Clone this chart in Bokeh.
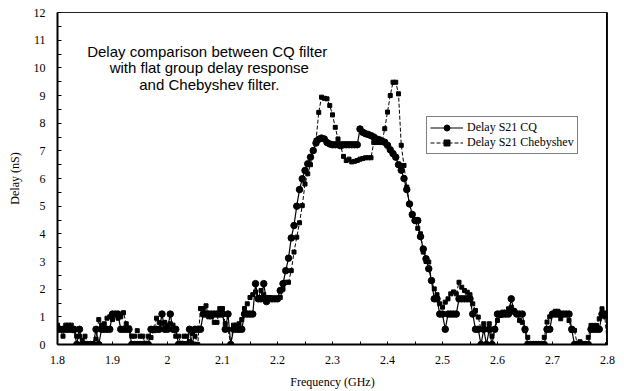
from bokeh.plotting import figure
from bokeh.models import (Range1d, FixedTicker, NumeralTickFormatter,
                          Label, Span, Legend)
from bokeh.embed import file_html
from bokeh.resources import INLINE

# Frequency sweep: 1.8 to 2.8 GHz in 5 MHz steps (201 points)
freq_start_ghz = 1.8
freq_step_ghz = 0.005
n_points = 201
freq = [round(freq_start_ghz + freq_step_ghz * i, 3) for i in range(n_points)]

# Group delay of the CQ filter (ns), one row per 50 MHz
delay_cq = [
    0.55, 0.55, 0.55, 0.55, 0.55, 0.55, 0.55, 0.0, 0.55, 0.0,
    0.0, 0.0, 0.0, 0.0, 0.55, 0.0, 0.55, 0.55, 0.55, 0.55,
    1.1, 1.1, 1.1, 0.55, 0.55, 0.55, 0.55, 0.0, 0.0, 0.0,
    0.0, 0.0, 0.0, 0.0, 0.55, 0.55, 0.55, 0.55, 1.1, 0.55,
    0.55, 1.1, 0.55, 0.55, 0.0, 0.0, 0.0, 0.0, 0.55, 0.0,
    0.55, 0.55, 0.55, 1.1, 1.1, 1.1, 1.1, 1.1, 1.1, 1.1,
    1.1, 0.55, 1.1, 0.0, 0.55, 0.55, 0.55, 0.55, 1.1, 1.1,
    1.1, 1.1, 2.2, 1.65, 1.65, 2.2, 1.55, 1.65, 1.65, 1.65,
    1.65, 1.95, 2.2, 2.67, 3.12, 3.85, 4.3, 5.0, 5.6, 5.99,
    6.29, 6.53, 6.77, 7.01, 7.28, 7.42, 7.46, 7.43, 7.3, 7.25,
    7.22, 7.22, 7.22, 7.22, 7.22, 7.22, 7.22, 7.22, 7.22, 7.22,
    7.79, 7.67, 7.62, 7.59, 7.55, 7.5, 7.43, 7.4, 7.35, 7.31,
    7.2, 7.04, 6.9, 6.77, 6.5, 6.3, 6.0, 5.6, 5.08, 4.7,
    4.48, 4.48, 3.9, 3.45, 3.1, 2.74, 2.31, 1.65, 1.65, 1.1,
    1.1, 0.55, 1.1, 1.1, 1.1, 1.1, 1.65, 1.65, 1.65, 1.65,
    1.65, 1.1, 0.55, 0.55, 0.0, 0.55, 0.0, 0.55, 0.0, 0.55,
    1.1, 1.1, 1.1, 1.1, 1.1, 1.65, 1.2, 1.1, 1.1, 1.1,
    0.55, 0.0, 0.0, 0.0, 0.0, 0.0, 0.0, 0.0, 0.55, 0.55,
    1.1, 1.1, 1.1, 1.1, 1.1, 1.1, 1.1, 0.55, 0.0, 0.0,
    0.0, 0.0, 0.0, 0.0, 0.55, 0.55, 0.55, 0.55, 1.1, 1.1,
    1.1,
]

# Group delay of the Chebyshev filter (ns)
delay_cheb = [
    0.7, 0.55, 0.3, 0.7, 0.7, 0.7, 0.5, 0.3, 0.3, 0.15,
    0.3, 0.0, 0.0, 0.0, 0.2, 0.9, 0.7, 0.75, 0.95, 1.0,
    0.9, 1.1, 0.95, 1.0, 1.15, 0.75, 0.6, 0.3, 0.3, 0.5,
    0.3, 0.3, 0.0, 0.3, 0.25, 0.5, 0.95, 0.8, 0.75, 0.8,
    0.7, 0.75, 0.7, 0.3, 0.3, 0.0, 0.3, 0.3, 0.1, 0.4,
    0.3, 0.0, 1.3, 1.3, 1.4, 1.0, 1.0, 0.8, 0.8, 1.3,
    1.3, 0.75, 0.55, 0.0, 0.7, 0.7, 0.75, 0.9, 1.3, 1.47,
    1.7, 1.8, 1.9, 1.7, 1.95, 1.8, 1.7, 1.7, 1.65, 1.65,
    1.65, 1.7, 2.0, 2.25, 2.25, 2.67, 3.34, 3.88, 4.4, 5.02,
    5.8, 6.17, 6.5, 7.0, 7.37, 8.39, 8.94, 8.9, 8.88, 8.64,
    8.3, 7.85, 7.43, 7.15, 6.8, 6.65, 6.7, 6.6, 6.62, 6.65,
    6.7, 6.72, 6.75, 6.75, 6.75, 7.3, 7.3, 7.3, 7.3, 7.8,
    8.4, 9.0, 9.48, 9.48, 9.06, 7.2, 6.47, 5.69, 5.08, 4.66,
    4.48, 4.2, 4.0, 3.34, 3.0, 2.98, 2.31, 2.01, 1.8, 1.47,
    1.35, 1.53, 1.65, 1.83, 1.9, 1.83, 2.25, 2.07, 1.95, 1.89,
    1.8, 1.47, 1.23, 0.99, 0.55, 0.75, 0.55, 0.75, 0.3, 0.55,
    0.87, 1.05, 1.17, 1.17, 1.29, 1.35, 1.2, 1.1, 0.87, 0.8,
    0.5, 0.26, 0.0, 0.0, 0.0, 0.0, 0.0, 0.26, 0.81, 1.0,
    1.11, 1.2, 1.2, 0.93, 1.11, 1.11, 0.87, 0.51, 0.51, 0.0,
    0.1, 0.0, 0.0, 0.26, 0.69, 0.69, 0.69, 0.93, 1.29, 1.0,
    0.0,
]

assert len(delay_cq) == n_points and len(delay_cheb) == n_points

# Axis ticks
x_ticks = [1.8, 1.9, 2.0, 2.1, 2.2, 2.3, 2.4, 2.5, 2.6, 2.7, 2.8]
x_minor_ticks = [1.85, 1.95, 2.05, 2.15, 2.25, 2.35, 2.45, 2.55, 2.65, 2.75]
y_ticks = list(range(0, 13))
y_minor_ticks = [0.5, 1.5, 2.5, 3.5, 4.5, 5.5, 6.5, 7.5, 8.5, 9.5, 10.5, 11.5]

series_names = ["Delay S21 CQ", "Delay S21 Chebyshev"]
title_lines = [
    "Delay comparison  between CQ filter",
    "with flat group delay response",
    "and Chebyshev filter.",
]

SERIF = "Liberation Serif"
SANS = "Liberation Sans"

p = figure(width=624, height=391,
           x_range=Range1d(1.8, 2.8), y_range=Range1d(0, 12),
           output_backend="svg", toolbar_location=None,
           min_border_left=57, min_border_right=17,
           min_border_top=12, min_border_bottom=47,
           background_fill_color="white", border_fill_color="white")

p.xgrid.visible = False
p.ygrid.visible = False
p.outline_line_color = "#222222"
p.outline_line_width = 1

# Axes
p.xaxis.ticker = FixedTicker(ticks=x_ticks, minor_ticks=x_minor_ticks)
p.yaxis.ticker = FixedTicker(ticks=y_ticks, minor_ticks=y_minor_ticks)
p.xaxis.formatter = NumeralTickFormatter(format="0.[0]")
p.xaxis.axis_label = "Frequency (GHz)"
p.yaxis.axis_label = "Delay (nS)"

p.axis.axis_line_color = "black"
p.axis.axis_line_width = 2
p.axis.major_tick_line_color = "black"
p.axis.minor_tick_line_color = "black"
p.axis.major_tick_out = 0
p.axis.minor_tick_out = 0
p.axis.major_label_text_font = SERIF
p.axis.major_label_text_font_size = "12px"
p.axis.major_label_text_color = "black"
p.axis.axis_label_text_font = SERIF
p.axis.axis_label_text_font_size = "12px"
p.axis.axis_label_text_font_style = "normal"
p.axis.axis_label_text_color = "black"

p.xaxis.major_tick_in = 3
p.xaxis.minor_tick_in = 3
p.xaxis.major_label_standoff = 11
p.xaxis.axis_label_standoff = 8
p.yaxis.major_tick_in = 4
p.yaxis.minor_tick_in = 4
p.yaxis.major_label_standoff = 12
p.yaxis.axis_label_standoff = 9

# Heavy right-hand frame edge
p.add_layout(Span(location=2.8, dimension="height", line_color="black",
                  line_width=3))

# Series
cq_line = p.line(freq, delay_cq, line_color="black", line_width=1.2)
cq_pts = p.scatter(freq, delay_cq, marker="circle", size=6.5,
                   fill_color="black", line_color="black")
ch_line = p.line(freq, delay_cheb, line_color="black", line_width=1,
                 line_dash="4 2")
ch_pts = p.scatter(freq, delay_cheb, marker="square", size=4,
                   fill_color="black", line_color="black")

legend = Legend(items=[(series_names[0], [cq_line, cq_pts]),
                       (series_names[1], [ch_line, ch_pts])],
                location=(369, 190),
                border_line_color="black", border_line_width=1,
                background_fill_color="white", background_fill_alpha=1,
                label_text_font=SERIF, label_text_font_size="12px",
                label_text_color="black",
                glyph_width=33, glyph_height=15, label_height=15,
                label_standoff=4, spacing=0, padding=3, margin=0)
p.add_layout(legend, "center")

# Caption inside the plot area
for line, yv in zip(title_lines, [10.6, 10.02, 9.4]):
    p.add_layout(Label(x=2.076, y=yv, text=line, text_align="center",
                       text_baseline="alphabetic", text_font=SANS,
                       text_font_size="15px", text_color="black"))

open("out.html", "w").write(file_html(p, INLINE))
